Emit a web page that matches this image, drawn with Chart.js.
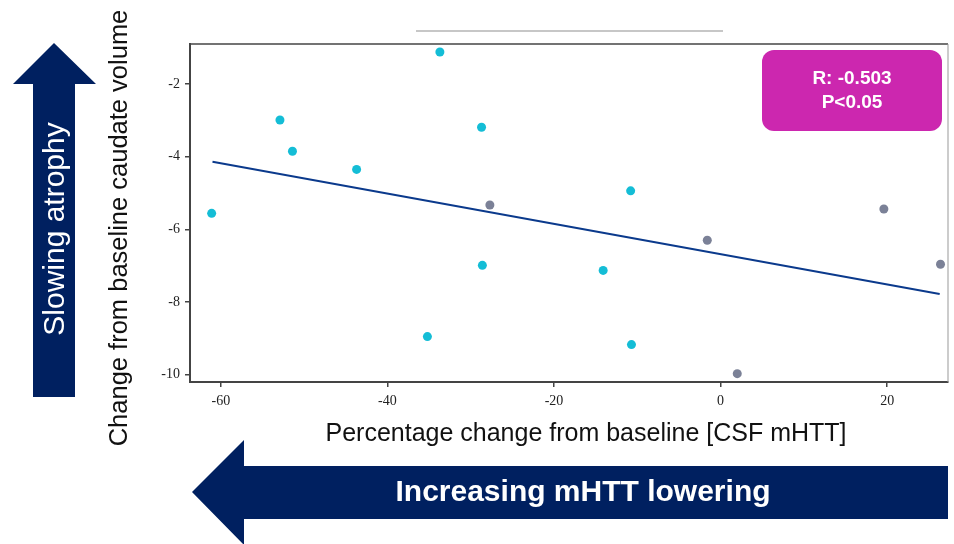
<!DOCTYPE html>
<html>
<head>
<meta charset="utf-8">
<script src="https://cdn.jsdelivr.net/npm/chart.js@4"></script>
<style>
    html, body { margin: 0; padding: 0; background: #fff; }
    #chart { display: block; }
</style>
</head>
<body>
<canvas id="chart" width="954" height="544"></canvas>
<script>
// values
const treatedX = [-61.1, -52.9, -51.4, -43.7, -33.7, -28.7, -28.6, -35.2, -10.8, -14.1, -10.7];
const treatedY = [-5.56, -2.99, -3.85, -4.35, -1.12, -3.19, -6.99, -8.95, -4.94, -7.13, -9.17];
const otherX = [-27.7, -1.6, 19.6, 26.4, 2.0];
const otherY = [-5.33, -6.30, -5.44, -6.96, -9.97];
const fitX = [-61.0, 26.3];
const fitY = [-4.14, -7.78];
const xTicks = [-60, -40, -20, 0, 20];
const yTicks = [-10, -8, -6, -4, -2];

const navy = '#002060';

function toPoints(xs, ys) {
    return xs.map((x, i) => ({ x: x, y: ys[i] }));
}

// arrows, stats box and axis titles
const decorPlugin = {
    id: 'decor',
    beforeDraw: function (chart) {
        const ctx = chart.ctx;
        ctx.save();
        ctx.fillStyle = '#fff';
        ctx.fillRect(0, 0, chart.width, chart.height);

        // up arrow
        ctx.fillStyle = navy;
        ctx.beginPath();
        ctx.moveTo(54, 43);
        ctx.lineTo(96, 84);
        ctx.lineTo(75, 84);
        ctx.lineTo(75, 397);
        ctx.lineTo(33, 397);
        ctx.lineTo(33, 84);
        ctx.lineTo(13, 84);
        ctx.closePath();
        ctx.fill();

        // left arrow
        ctx.beginPath();
        ctx.moveTo(192, 492);
        ctx.lineTo(244, 440);
        ctx.lineTo(244, 466);
        ctx.lineTo(948, 466);
        ctx.lineTo(948, 519);
        ctx.lineTo(244, 519);
        ctx.lineTo(244, 545);
        ctx.closePath();
        ctx.fill();

        ctx.fillStyle = '#fff';
        ctx.textAlign = 'center';
        ctx.textBaseline = 'middle';
        ctx.font = '30px "Liberation Sans", Arial, sans-serif';
        ctx.translate(56, 229);
        ctx.rotate(-Math.PI / 2);
        ctx.fillText('Slowing atrophy', 0, 0);
        ctx.setTransform(1, 0, 0, 1, 0, 0);

        ctx.font = 'bold 30px "Liberation Sans", Arial, sans-serif';
        ctx.fillText('Increasing mHTT lowering', 583, 493);
        ctx.restore();
    },
    afterDraw: function (chart) {
        const ctx = chart.ctx;
        const a = chart.chartArea;
        ctx.save();

        // top and right frame
        ctx.strokeStyle = '#444';
        ctx.lineWidth = 1.5;
        ctx.beginPath();
        ctx.moveTo(a.left, a.top);
        ctx.lineTo(a.right, a.top);
        ctx.stroke();
        ctx.strokeStyle = '#999';
        ctx.lineWidth = 1;
        ctx.beginPath();
        ctx.moveTo(a.right, a.top);
        ctx.lineTo(a.right, a.bottom);
        ctx.stroke();

        // empty title rule
        ctx.strokeStyle = '#b4b4b4';
        ctx.lineWidth = 1.5;
        ctx.beginPath();
        ctx.moveTo(416, 31);
        ctx.lineTo(723, 31);
        ctx.stroke();

        // stats box
        ctx.fillStyle = '#cc27af';
        ctx.beginPath();
        ctx.roundRect(762, 50, 180, 81, 12);
        ctx.fill();
        ctx.fillStyle = '#fff';
        ctx.textAlign = 'center';
        ctx.textBaseline = 'middle';
        ctx.font = 'bold 19px "Liberation Sans", Arial, sans-serif';
        ctx.fillText('R: -0.503', 852, 79);
        ctx.fillText('P<0.05', 852, 103);

        // axis titles
        ctx.fillStyle = '#111';
        ctx.font = '25px "Liberation Sans", Arial, sans-serif';
        ctx.fillText('Percentage change from baseline [CSF mHTT]', 586, 434);
        ctx.font = '25.5px "Liberation Sans", Arial, sans-serif';
        ctx.translate(120, 228);
        ctx.rotate(-Math.PI / 2);
        ctx.fillText('Change from baseline caudate volume', 0, 0);
        ctx.restore();
    }
};

const tickFont = { family: '"Liberation Serif", "Times New Roman", serif', size: 14 };

new Chart(document.getElementById('chart'), {
    type: 'scatter',
    data: {
        datasets: [{
            type: 'line',
            data: toPoints(fitX, fitY),
            borderColor: '#0b3a8c',
            borderWidth: 2,
            pointRadius: 0,
            order: 2
        }, {
            data: toPoints(treatedX, treatedY),
            backgroundColor: '#14bdd6',
            borderWidth: 0,
            pointRadius: 4.5,
            order: 1
        }, {
            data: toPoints(otherX, otherY),
            backgroundColor: '#7b8197',
            borderWidth: 0,
            pointRadius: 4.5,
            order: 1
        }]
    },
    options: {
        responsive: false,
        animation: false,
        devicePixelRatio: 1,
        layout: { padding: { left: 0, top: 44, right: 6, bottom: 0 } },
        plugins: {
            legend: { display: false },
            tooltip: { enabled: false }
        },
        scales: {
            x: {
                type: 'linear',
                min: -63.7,
                max: 27.3,
                afterFit: function (s) { s.height = 162; },
                afterBuildTicks: function (s) { s.ticks = xTicks.map(v => ({ value: v })); },
                border: { color: '#444', width: 2 },
                grid: { drawOnChartArea: false, color: '#444', tickLength: 5, lineWidth: 1.5 },
                ticks: { font: tickFont, color: '#222', padding: 6 }
            },
            y: {
                type: 'linear',
                min: -10.2,
                max: -0.9,
                afterFit: function (s) { s.width = 190; },
                afterBuildTicks: function (s) { s.ticks = yTicks.map(v => ({ value: v })); },
                border: { color: '#444', width: 2 },
                grid: { drawOnChartArea: false, color: '#444', tickLength: 5, lineWidth: 1.5 },
                ticks: { font: tickFont, color: '#222', padding: 5 }
            }
        }
    },
    plugins: [decorPlugin]
});
</script>
</body>
</html>
